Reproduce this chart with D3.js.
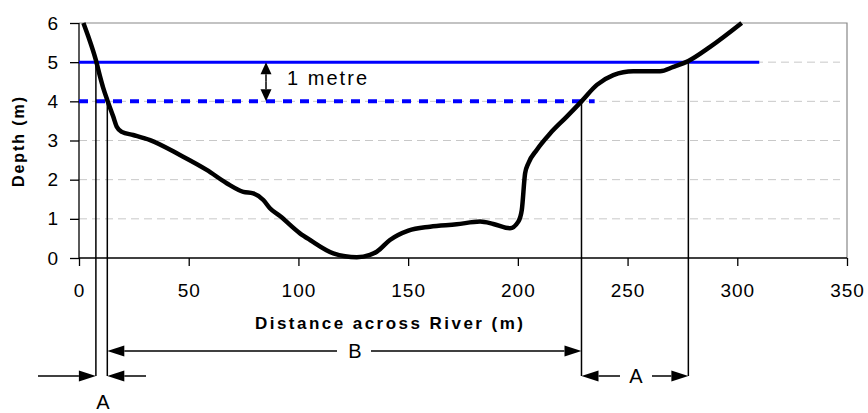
<!DOCTYPE html>
<html><head><meta charset="utf-8">
<script src="https://cdn.jsdelivr.net/npm/d3@7/dist/d3.min.js"></script>
<style>body{margin:0;background:#fff}svg{display:block}text{font-family:"Liberation Sans",Arial,sans-serif}</style>
</head><body><svg id="c" width="868" height="413"></svg>
<script>
// River cross-section profile (distance m, depth m)
const distance = [2, 4.2, 7.7, 9.6, 11.1, 12.9, 15.6, 17.2, 19.5, 24.7, 32.4, 46, 58.2, 67.3, 74.9, 79.4, 84, 87, 91.6, 100.7, 105.3, 115.9, 126.6, 132.6, 135.7, 141.7, 150.1, 160, 172.1, 182.8, 188.8, 196.4, 200.2, 201.8, 203.3, 204.8, 208.6, 214.7, 222.3, 229, 236, 243.5, 252.6, 264.8, 270.9, 277.7, 287.6, 302];
const depth = [6, 5.66, 5.05, 4.63, 4.33, 4.03, 3.61, 3.35, 3.22, 3.14, 3.01, 2.63, 2.25, 1.91, 1.69, 1.65, 1.48, 1.27, 1.07, 0.63, 0.46, 0.12, 0.02, 0.08, 0.16, 0.46, 0.70, 0.80, 0.86, 0.93, 0.87, 0.76, 0.93, 1.23, 2.16, 2.42, 2.76, 3.18, 3.61, 4.0, 4.42, 4.67, 4.77, 4.77, 4.88, 5.03, 5.39, 6.0];
// water levels
const levelValues = [5, 4];
const levelEnds = [310, 235];
// bank crossing points (distance, level)
const crossX = [7.7, 12.9, 229, 277.7];
const crossY = [5, 4, 4, 5];
const xTicks = [0, 50, 100, 150, 200, 250, 300, 350];
const yTicks = [0, 1, 2, 3, 4, 5, 6];
const xTitle = "Distance across River (m)";
const yTitle = "Depth (m)";

const svg = d3.select("#c");
const L = 79, R = 847, T = 23, B = 258;
const x = d3.scaleLinear().domain([0, 350]).range([L, R]);
const y = d3.scaleLinear().domain([0, 6]).range([B, T]);
const FS = 19;

// gridlines
svg.append("g").selectAll("line").data(yTicks.filter(d => d > 0 && d < 6)).join("line")
  .attr("x1", L).attr("x2", 840).attr("y1", d => y(d)).attr("y2", d => y(d))
  .attr("stroke", "#c8c8c8").attr("stroke-width", 1).attr("stroke-dasharray", "8,5");
// frame top/right
svg.append("path").attr("d", `M${L},${T}H${R}V${B}`).attr("fill", "none").attr("stroke", "#888").attr("stroke-width", 1.2);

// axes
const xAxis = svg.append("g").attr("transform", `translate(0,${B})`)
  .call(d3.axisBottom(x).tickValues(xTicks).tickFormat(d3.format("d")).tickSize(8).tickPadding(18));
const yAxis = svg.append("g").attr("transform", `translate(${L},0)`)
  .call(d3.axisLeft(y).tickValues(yTicks).tickFormat(d3.format("d")).tickSize(9).tickPadding(11));
[xAxis, yAxis].forEach(g => {
  g.attr("font-size", FS).attr("font-family", '"Liberation Sans",Arial,sans-serif');
  g.select(".domain").attr("stroke", "#000").attr("stroke-width", 1.3);
  g.selectAll(".tick line").attr("stroke", "#000").attr("stroke-width", 1.3);
  g.selectAll(".tick text").attr("fill", "#000").attr("letter-spacing", 1);
});
xAxis.select(".domain").attr("d", `M${L},0H${R}`);
yAxis.select(".domain").attr("d", `M0,${B}V${T}`);

// titles
svg.append("text").attr("x", 255).attr("y", 329).attr("font-size", 17).attr("font-weight", "bold")
  .attr("textLength", 268).attr("lengthAdjust", "spacing").text(xTitle);
svg.append("text").attr("transform", "translate(24,142) rotate(-90)").attr("text-anchor", "middle")
  .attr("font-size", 16).attr("font-weight", "bold").attr("textLength", 90).attr("lengthAdjust", "spacing").text(yTitle);

// water levels
svg.append("line").attr("x1", x(0)).attr("x2", x(levelEnds[0])).attr("y1", y(levelValues[0])).attr("y2", y(levelValues[0]))
  .attr("stroke", "#0000ff").attr("stroke-width", 3);
svg.append("line").attr("x1", x(0)).attr("x2", x(levelEnds[1])).attr("y1", y(levelValues[1])).attr("y2", y(levelValues[1]))
  .attr("stroke", "#0000ff").attr("stroke-width", 4).attr("stroke-dasharray", "9,8");

// profile
const pts = distance.map((d, i) => [d, depth[i]]);
svg.append("path").datum(pts)
  .attr("d", d3.line().x(d => x(d[0])).y(d => y(d[1])).curve(d3.curveMonotoneX))
  .attr("fill", "none").attr("stroke", "#000").attr("stroke-width", 4.5).attr("stroke-linejoin", "round");

// vertical markers
const annY1 = 351, annY2 = 376;
crossX.forEach((cx, i) => {
  svg.append("line").attr("x1", x(cx)).attr("x2", x(cx)).attr("y1", y(crossY[i])).attr("y2", annY2)
    .attr("stroke", "#000").attr("stroke-width", 1.5);
});

function arrow(x1, y1, x2, y2, len = 17, hw = 5.5) {
  const a = Math.atan2(y2 - y1, x2 - x1);
  const bx = x2 - len * Math.cos(a), by = y2 - len * Math.sin(a);
  svg.append("line").attr("x1", x1).attr("y1", y1).attr("x2", bx).attr("y2", by).attr("stroke", "#000").attr("stroke-width", 1.5);
  const px = -Math.sin(a) * hw, py = Math.cos(a) * hw;
  svg.append("path").attr("d", `M${x2},${y2}L${bx + px},${by + py}L${bx - px},${by - py}Z`).attr("fill", "#000");
}
function label(t, lx, ly) {
  svg.append("text").attr("x", lx).attr("y", ly).attr("dy", "0.36em").attr("text-anchor", "middle").attr("font-size", 20).text(t);
}

// B
arrow(337, annY1, x(crossX[1]), annY1);
arrow(371, annY1, x(crossX[2]), annY1);
label("B", 355, annY1);
// A left
arrow(38, annY2, x(crossX[0]), annY2);
arrow(146, annY2, x(crossX[1]), annY2);
label("A", 103, 402);
// A right
arrow(620, annY2, x(crossX[2]), annY2);
arrow(652, annY2, x(crossX[3]), annY2);
label("A", 636, annY2);

// 1 metre
const mx = 266;
arrow(mx, (y(4) + y(5)) / 2, mx, y(5), 12, 5.5);
arrow(mx, (y(4) + y(5)) / 2, mx, y(4), 12, 5.5);
svg.append("text").attr("x", 287).attr("y", 78).attr("dy", "0.36em").attr("font-size", 20)
  .attr("textLength", 80).attr("lengthAdjust", "spacing").text("1 metre");
</script></body></html>
